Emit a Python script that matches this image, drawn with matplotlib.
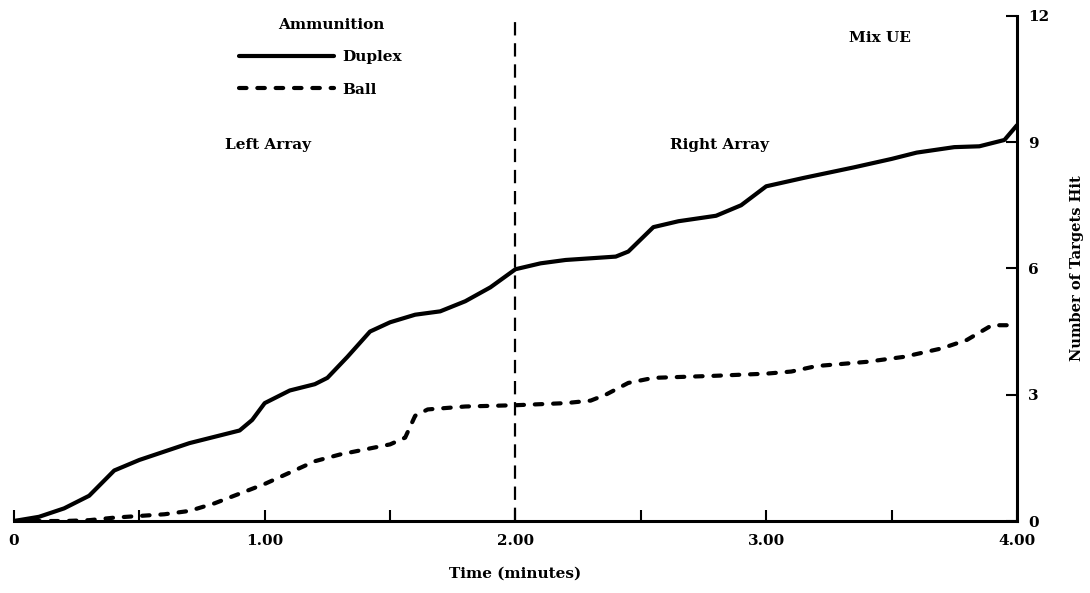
import matplotlib
matplotlib.use('Agg')

import matplotlib.pyplot as plt
from matplotlib.ticker import FixedLocator

# ===== data =====
t_duplex = [0.0, 0.1, 0.2, 0.3, 0.35, 0.4, 0.5, 0.6, 0.7, 0.8, 0.9, 0.95,
            1.0, 1.1, 1.2, 1.25, 1.33, 1.42, 1.5, 1.6, 1.7, 1.8, 1.9, 2.0,
            2.1, 2.2, 2.4, 2.45, 2.55, 2.65, 2.8, 2.9, 3.0, 3.15, 3.35, 3.5,
            3.6, 3.75, 3.85, 3.95, 4.0]
duplex = [0.0, 0.1, 0.3, 0.6, 0.9, 1.2, 1.45, 1.65, 1.85, 2.0, 2.15, 2.4,
          2.8, 3.1, 3.25, 3.4, 3.9, 4.5, 4.72, 4.9, 4.98, 5.22, 5.55, 5.98,
          6.12, 6.2, 6.28, 6.4, 6.98, 7.12, 7.25, 7.5, 7.95, 8.15, 8.4, 8.6,
          8.75, 8.88, 8.9, 9.05, 9.4]

t_ball = [0.0, 0.1, 0.2, 0.3, 0.4, 0.5, 0.6, 0.7, 0.8, 0.9, 1.0, 1.1,
          1.2, 1.3, 1.4, 1.5, 1.56, 1.6, 1.65, 1.8, 2.0, 2.2, 2.3, 2.36,
          2.45, 2.55, 2.8, 3.0, 3.1, 3.2, 3.4, 3.55, 3.7, 3.8, 3.9, 4.0]
ball = [0.0, 0.0, 0.0, 0.02, 0.08, 0.12, 0.16, 0.24, 0.42, 0.65, 0.88, 1.15,
        1.42, 1.58, 1.7, 1.82, 1.98, 2.5, 2.65, 2.72, 2.75, 2.8, 2.86, 3.0,
        3.28, 3.4, 3.45, 3.5, 3.55, 3.68, 3.78, 3.9, 4.1, 4.3, 4.65, 4.65]

x_major = [0, 1, 2, 3, 4]
x_labels = ['0', '1.00', '2.00', '3.00', '4.00']
x_minor = [0.5, 1.5, 2.5, 3.5]
y_ticks = [0, 3, 6, 9, 12]

FS = 11

plt.rcParams['font.family'] = ['DejaVu Serif']
plt.rcParams['font.weight'] = 'bold'

fig = plt.figure(figsize=(10.9, 5.93), dpi=100)
ax = fig.add_axes([0.0128, 0.1214, 0.9202, 0.852])

ax.plot(t_duplex, duplex, color='black', lw=3.0, solid_capstyle='round',
        label='Duplex')
ax.plot(t_ball, ball, color='black', lw=3.0, dashes=(1.8, 2.6),
        dash_capstyle='round', label='Ball')

# boundary between left and right array
ax.plot([2, 2], [0, 11.85], color='black', lw=1.6, dashes=(6, 3.5))

ax.set_xlim(0, 4)
ax.set_ylim(0, 12)

for s in ['left', 'top']:
    ax.spines[s].set_visible(False)
for s in ['right', 'bottom']:
    ax.spines[s].set_linewidth(2.2)

ax.xaxis.set_major_locator(FixedLocator(x_major))
ax.xaxis.set_minor_locator(FixedLocator(x_minor))
ax.set_xticklabels(x_labels, fontsize=FS, fontweight='bold')
ax.tick_params(axis='x', which='both', direction='in', length=8, width=1.5,
               pad=9)

ax.yaxis.tick_right()
ax.yaxis.set_label_position('right')
ax.set_yticks(y_ticks)
ax.set_yticklabels([str(v) for v in y_ticks], fontsize=FS,
                   fontweight='bold')
ax.tick_params(axis='y', direction='in', length=8, width=1.5, pad=8)

ax.set_xlabel('Time (minutes)', fontsize=FS, fontweight='bold', labelpad=14)
ax.set_ylabel('Number of Targets Hit', fontsize=10.5, fontweight='bold',
              labelpad=15)

leg = ax.legend(loc='upper left', bbox_to_anchor=(0.2243, 0.9315),
                frameon=False, handlelength=6.2, handletextpad=0.55,
                labelspacing=1.19, borderpad=0, borderaxespad=0,
                prop={'size': FS, 'weight': 'bold'})

ax.text(0.316, 0.982, 'Ammunition', transform=ax.transAxes, fontsize=FS,
        fontweight='bold', va='center', ha='center')
ax.text(0.21, 0.745, 'Left Array', transform=ax.transAxes, fontsize=FS,
        fontweight='bold', va='center', ha='left')
ax.text(0.654, 0.745, 'Right Array', transform=ax.transAxes, fontsize=FS,
        fontweight='bold', va='center', ha='left')
ax.text(0.833, 0.956, 'Mix UE', transform=ax.transAxes, fontsize=FS,
        fontweight='bold', va='center', ha='left')

fig.savefig('out.png', dpi=100, facecolor='white')
